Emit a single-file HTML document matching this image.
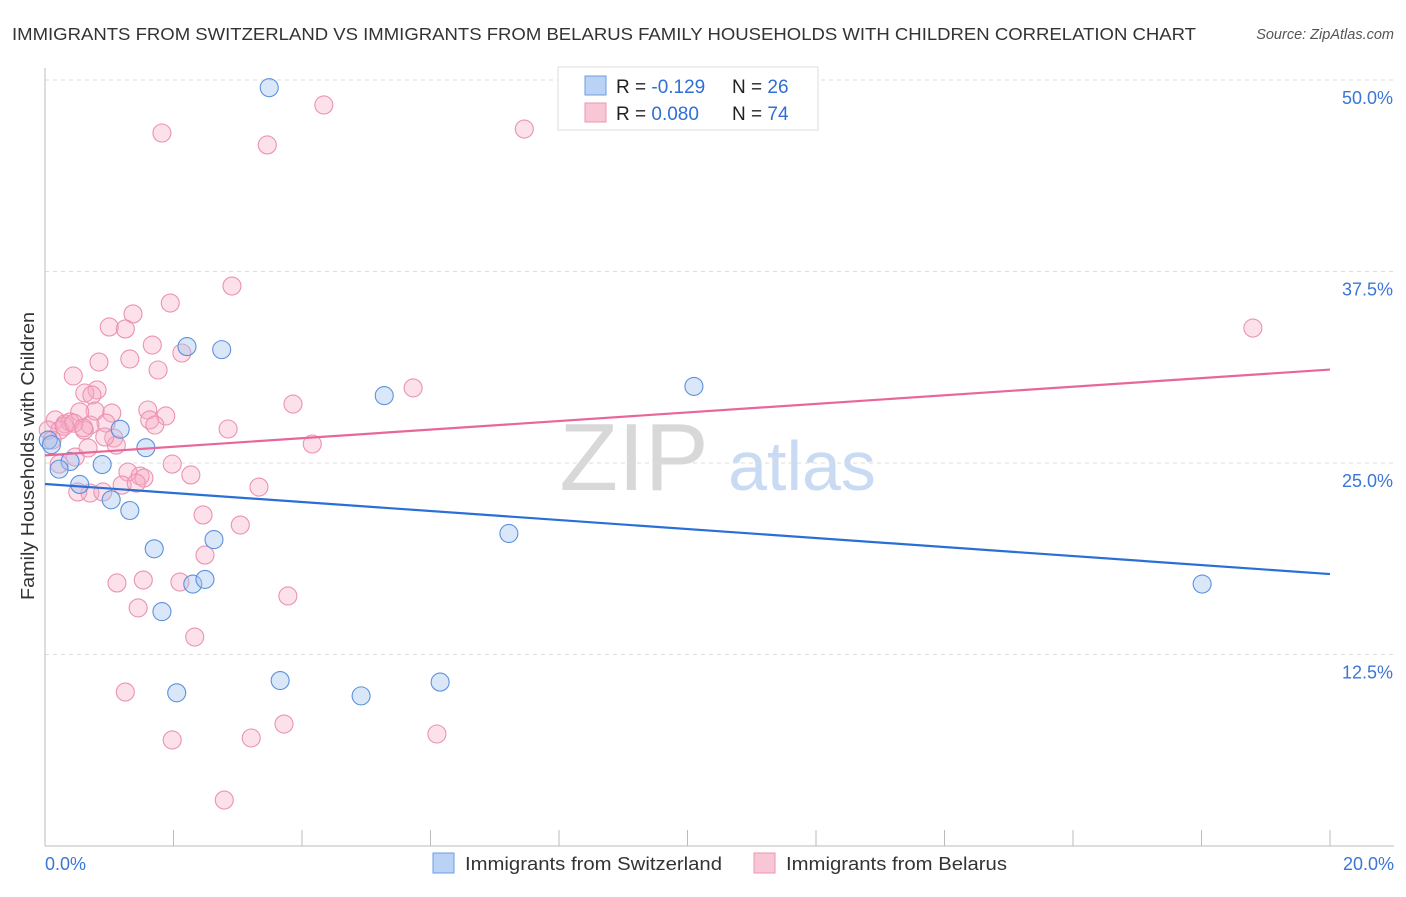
<!DOCTYPE html>
<html><head><meta charset="utf-8"><style>
body{margin:0;background:#fff;font-family:"Liberation Sans",sans-serif}
svg text{font-family:"Liberation Sans",sans-serif}
</style></head><body>
<svg id="c" width="1406" height="892">
<text x="12" y="40" font-size="17.5" fill="#333" textLength="1184" lengthAdjust="spacingAndGlyphs">IMMIGRANTS FROM SWITZERLAND VS IMMIGRANTS FROM BELARUS FAMILY HOUSEHOLDS WITH CHILDREN CORRELATION CHART</text>
<text x="1394" y="39" font-size="14.5" fill="#555" text-anchor="end" font-style="italic">Source: ZipAtlas.com</text>
<text transform="translate(34,456) rotate(-90)" font-size="18" fill="#333" text-anchor="middle" textLength="288" lengthAdjust="spacingAndGlyphs">Family Households with Children</text>
<g><text x="634" y="490" font-size="96" fill="#d8d8d8" font-family="Liberation Serif" text-anchor="middle">ZIP</text><text x="802" y="490" font-size="70" fill="#c8dbf3" text-anchor="middle">atlas</text></g>
<g id="grid"></g><g id="marks"></g>
<g>
<rect x="558" y="67" width="260" height="63" fill="#fff" stroke="#ddd"/>
<rect x="585" y="76" width="21" height="19" fill="#b9d2f5" stroke="#6e9ce0"/>
<rect x="585" y="103" width="21" height="19" fill="#f9c6d6" stroke="#eb95b2"/>
<text x="616" y="93" font-size="19" fill="#222">R = <tspan fill="#2f6fd6">-0.129</tspan></text>
<text x="732" y="93" font-size="19" fill="#222">N = <tspan fill="#2f6fd6">26</tspan></text>
<text x="616" y="120" font-size="19" fill="#222">R = <tspan fill="#2f6fd6">0.080</tspan></text>
<text x="732" y="120" font-size="19" fill="#222">N = <tspan fill="#2f6fd6">74</tspan></text>
</g>
<g>
<rect x="433" y="853" width="21" height="20" fill="#b9d2f5" stroke="#6e9ce0"/>
<text x="465" y="870" font-size="18" fill="#333" textLength="257" lengthAdjust="spacingAndGlyphs">Immigrants from Switzerland</text>
<rect x="754" y="853" width="21" height="20" fill="#f9c6d6" stroke="#eb95b2"/>
<text x="786" y="870" font-size="18" fill="#333" textLength="221" lengthAdjust="spacingAndGlyphs">Immigrants from Belarus</text>
</g>
</svg>
<script>
const yTicks=[12.5,25,37.5,50];
const yTickLabels=["12.5%","25.0%","37.5%","50.0%"];
const xTicks=[0,2,4,6,8,10,12,14,16,18,20];
const xEndLabels=["0.0%","20.0%"];
const swissX=[3.49,2.21,2.75,5.28,10.10,1.17,1.57,0.39,0.89,0.22,0.54,1.03,1.32,1.70,2.63,7.22,2.30,2.49,1.82,18.01,2.05,3.66,4.92,6.15,0.05,0.10];
const swissY=[49.5,32.6,32.4,29.4,30.0,27.2,26.0,25.1,24.9,24.6,23.6,22.6,21.9,19.4,20.0,20.4,17.1,17.4,15.3,17.1,10.0,10.8,9.8,10.7,26.5,26.2];
const belX=[4.34,1.82,3.46,7.46,2.91,1.95,1.37,1.00,1.25,1.67,2.13,1.32,0.84,1.76,0.44,0.81,0.62,0.73,18.80,5.73,3.86,1.60,1.88,0.78,0.54,1.04,1.63,1.71,2.85,0.95,0.16,0.31,0.39,0.70,0.23,0.05,0.11,0.61,1.07,1.11,4.16,0.67,0.47,1.98,2.27,1.29,1.48,1.54,1.20,1.42,3.33,0.70,0.51,0.90,2.46,3.04,2.49,1.12,1.53,2.10,3.78,1.45,2.33,1.25,1.98,3.21,3.72,6.10,2.79,0.22,0.93,0.30,0.45,0.60];
const belY=[48.37,46.54,45.76,46.80,36.55,35.44,34.73,33.88,33.75,32.70,32.18,31.79,31.59,31.07,30.68,29.77,29.57,29.44,33.81,29.90,28.85,28.46,28.07,28.39,28.33,28.26,27.81,27.48,27.22,27.61,27.81,27.55,27.68,27.48,27.15,27.15,26.50,27.15,26.63,26.17,26.24,25.98,25.39,24.93,24.22,24.41,24.15,24.02,23.56,23.69,23.43,23.04,23.11,23.11,21.61,20.95,18.99,17.17,17.36,17.23,16.32,15.54,13.64,10.05,6.92,7.05,7.96,7.31,3.00,24.93,26.70,27.40,27.60,27.30];
const swissTrend=[23.63,17.75];
const belTrend=[25.5,31.1];
const X=v=>45+v/20*1285, Y=v=>846-v/12.5*191.5;
const NS="http://www.w3.org/2000/svg";
function mk(t,a,p){const e=document.createElementNS(NS,t);for(const k in a)e.setAttribute(k,a[k]);p.appendChild(e);return e;}
const g=document.getElementById('grid'), m=document.getElementById('marks');
yTicks.forEach((t,i)=>{
 const l=mk('line',{x1:45,x2:1394,y1:Y(t),y2:Y(t),stroke:'#ddd','stroke-dasharray':'4,4'},g);
 
 
 const tx=mk('text',{x:1393,y:Y(t)+24,'font-size':18,fill:'#3b76d6','text-anchor':'end'},g);
 tx.textContent=yTickLabels[i];
 
 
});
const ax=mk('line',{x1:45,x2:1394,y1:846,y2:846,stroke:'#bbb'},g);


const ay=mk('line',{x1:45,x2:45,y1:68,y2:846,stroke:'#bbb'},g);


xTicks.forEach(t=>{
 const l=mk('line',{x1:X(t),x2:X(t),y1:830,y2:846,stroke:'#bbb'},g);
 
 
});
[[0,'start',45],[20,'end',1394]].forEach((d,i)=>{
 const tx=mk('text',{x:d[2],y:870,'font-size':18,fill:'#3b76d6','text-anchor':d[1]},g);
 tx.textContent=xEndLabels[i];
 
 
});
belX.forEach((v,i)=>{
 const c=mk('circle',{cx:X(v),cy:Y(belY[i]),r:9,fill:'rgba(246,170,195,0.35)',stroke:'#ec92b1','stroke-width':1.1},m);
 
 
});
swissX.forEach((v,i)=>{
 const c=mk('circle',{cx:X(v),cy:Y(swissY[i]),r:9,fill:'rgba(160,196,240,0.4)',stroke:'#5d91dc','stroke-width':1.1},m);
 
 
});
const t1=mk('line',{x1:X(0),x2:X(20),y1:Y(belTrend[0]),y2:Y(belTrend[1]),stroke:'#e8679a','stroke-width':2.2},m);


const t2=mk('line',{x1:X(0),x2:X(20),y1:Y(swissTrend[0]),y2:Y(swissTrend[1]),stroke:'#2a6fd6','stroke-width':2.2},m);


</script>
</body></html>
